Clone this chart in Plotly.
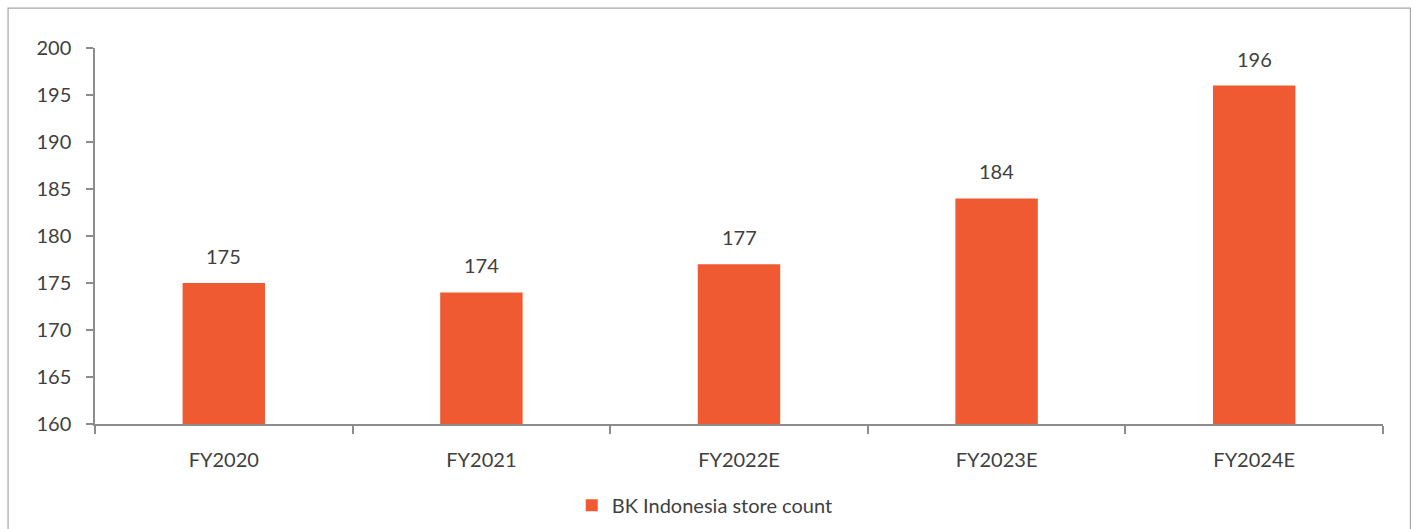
import plotly.graph_objects as go

# BK Indonesia store count by fiscal year
years = ["FY2020", "FY2021", "FY2022E", "FY2023E", "FY2024E"]
store_count = [175, 174, 177, 184, 196]
y_ticks = [160, 165, 170, 175, 180, 185, 190, 195, 200]

BAR_COLOR = "#EF5A33"
TEXT_COLOR = "#404040"
AXIS_COLOR = "#8C8C8C"
FONT = "Lato, Calibri, sans-serif"

fig = go.Figure()
fig.add_trace(go.Bar(
    x=years,
    y=store_count,
    name="BK Indonesia store count",
    marker=dict(color=BAR_COLOR, line=dict(width=0)),
))

# value labels above each bar
for yr, v in zip(years, store_count):
    fig.add_annotation(
        x=yr, y=v, text=str(v), showarrow=False,
        yshift=27, font=dict(family=FONT, size=20, color=TEXT_COLOR),
    )

# outer chart frame
fig.add_shape(
    type="rect", xref="paper", yref="paper",
    x0=-0.0675, x1=1.0213, y0=-0.5, y1=1.106,
    line=dict(color="#A6A6A6", width=1.2), fillcolor="rgba(0,0,0,0)",
    layer="below",
)

fig.update_layout(
    width=1418, height=529,
    margin=dict(l=95, r=35, t=48, b=105, autoexpand=False),
    paper_bgcolor="white", plot_bgcolor="white",
    font=dict(family=FONT, size=20, color=TEXT_COLOR),
    bargap=0.68,
    showlegend=True,
    legend=dict(
        orientation="h", xref="container", yref="container",
        x=0.497, xanchor="center", y=0.045, yanchor="middle",
        font=dict(family=FONT, size=20, color=TEXT_COLOR),
        itemwidth=30, traceorder="normal",
    ),
    xaxis=dict(
        type="category", showgrid=False, showline=True, automargin=False,
        linecolor=AXIS_COLOR, linewidth=1.5,
        ticks="outside", tickson="boundaries", ticklen=8,
        tickcolor=AXIS_COLOR, tickwidth=1.5,
        ticklabelstandoff=17,
        tickfont=dict(family=FONT, size=20, color=TEXT_COLOR),
    ),
    yaxis=dict(
        range=[160, 200], tickvals=y_ticks, showgrid=False, automargin=False,
        showline=True, linecolor=AXIS_COLOR, linewidth=1.5,
        ticks="outside", ticklen=7, tickcolor=AXIS_COLOR, tickwidth=1.5,
        ticklabelstandoff=11, zeroline=False,
        tickfont=dict(family=FONT, size=20, color=TEXT_COLOR),
    ),
)

fig.write_html("out.html")
